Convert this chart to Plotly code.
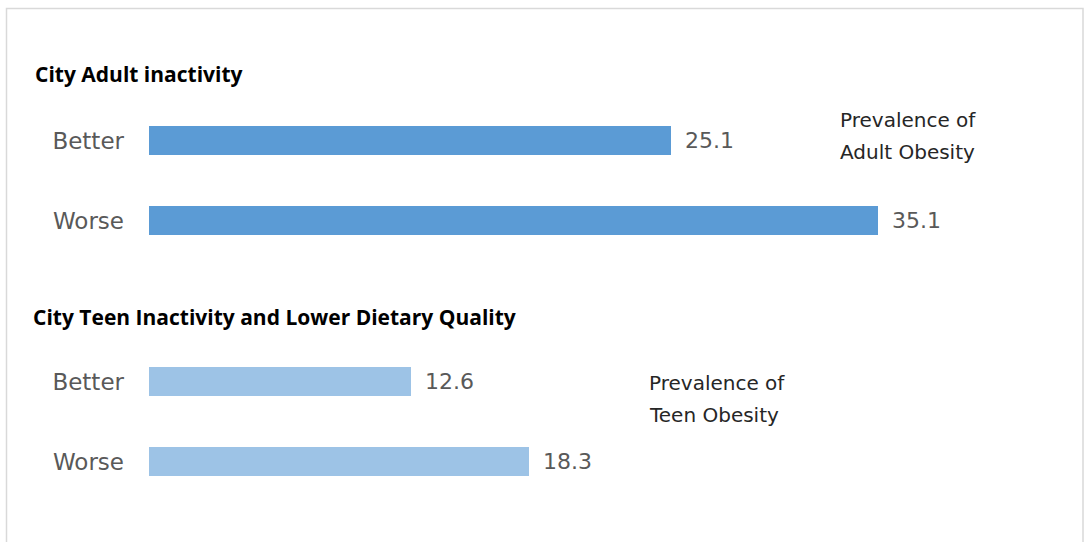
import plotly.graph_objects as go
from plotly.subplots import make_subplots

W, H = 1084, 542

# Data
categories = ["Better", "Worse"]
adult_obesity = [25.1, 35.1]
teen_obesity = [12.6, 18.3]
adult_title = "City Adult inactivity"
teen_title = "City Teen Inactivity and Lower Dietary Quality"
adult_note = ["Prevalence of", "Adult Obesity"]
teen_note = ["Prevalence of", "Teen Obesity"]

adult_color = "#5b9bd5"
teen_color = "#9dc3e6"

ML, MR, MT, MB = 149, 0, 0, 0
PW, PH = W - ML - MR, H - MT - MB


def px_x(x):
    return (x - ML) / PW


def px_y(y):
    return 1 - (y - MT) / PH


fig = make_subplots(rows=2, cols=1)

for row, vals, color in [(1, adult_obesity, adult_color), (2, teen_obesity, teen_color)]:
    fig.add_trace(
        go.Bar(
            x=vals, y=categories, orientation="h",
            marker=dict(color=color, line=dict(width=0)),
            width=0.36,
            text=vals, texttemplate="\u2002%{x}", textposition="outside",
            constraintext="none", cliponaxis=False,
            textfont=dict(family="DejaVu Sans, sans-serif", size=22, color="#595959"),
            showlegend=False, hoverinfo="skip",
        ),
        row=row, col=1,
    )

tick_font = dict(family="DejaVu Sans, sans-serif", size=23, color="#595959")
fig.update_layout(
    width=W, height=H,
    margin=dict(l=ML, r=MR, t=MT, b=MB),
    paper_bgcolor="white", plot_bgcolor="white",
    bargap=0,
    xaxis=dict(domain=[0, 1], range=[0, 45], visible=False),
    xaxis2=dict(domain=[0, 1], range=[0, 45], visible=False),
    yaxis=dict(domain=[px_y(261.25), px_y(100.25)], autorange="reversed",
               showgrid=False, zeroline=False, showline=False, ticks="",
               ticklabelstandoff=24, tickfont=tick_font),
    yaxis2=dict(domain=[px_y(502.25), px_y(341.25)], autorange="reversed",
                showgrid=False, zeroline=False, showline=False, ticks="",
                ticklabelstandoff=24, tickfont=tick_font),
)

title_font = dict(family="Open Sans, sans-serif", size=21, color="#000000")
note_font = dict(family="DejaVu Sans, sans-serif", size=20, color="#262626")

annotations = [
    dict(text="<b>%s</b>" % adult_title, x=px_x(33), y=px_y(74), font=title_font),
    dict(text="<b>%s</b>" % teen_title, x=px_x(31), y=px_y(317), font=title_font),
    dict(text=adult_note[0], x=px_x(838), y=px_y(120), font=note_font),
    dict(text=adult_note[1], x=px_x(838), y=px_y(152), font=note_font),
    dict(text=teen_note[0], x=px_x(647), y=px_y(383), font=note_font),
    dict(text=teen_note[1], x=px_x(647), y=px_y(415), font=note_font),
]
for a in annotations:
    fig.add_annotation(xref="paper", yref="paper", xanchor="left", yanchor="middle",
                       showarrow=False, align="left", **a)

# Frame around the chart
fig.add_shape(type="rect", xref="paper", yref="paper",
              x0=px_x(6.5), x1=px_x(1083), y0=px_y(560), y1=px_y(8.5),
              line=dict(color="#d9d9d9", width=1.5), fillcolor="rgba(0,0,0,0)",
              layer="below")

fig.write_html("out.html")
